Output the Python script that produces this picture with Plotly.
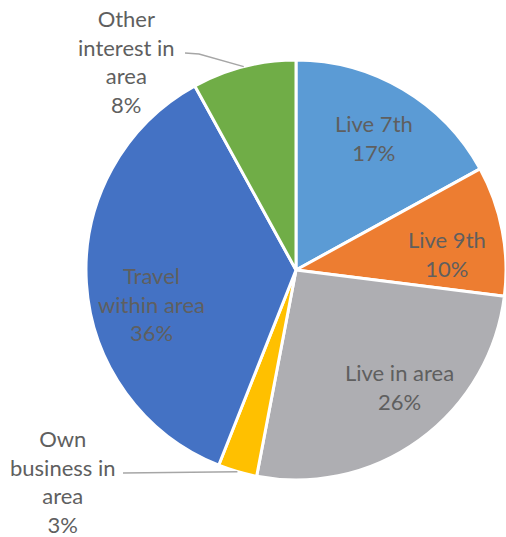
import math
import plotly.graph_objects as go

labels = ["Live 7th", "Live 9th", "Live in area", "Own business in area", "Travel within area", "Other interest in area"]
display = ["Live 7th", "Live 9th", "Live in area", "Own<br>business in<br>area", "Travel<br>within area", "Other<br>interest in<br>area"]
values = [17, 10, 26, 3, 36, 8]
colors = ["#5B9BD5", "#ED7D31", "#AEAEB2", "#FFC000", "#4472C4", "#70AD47"]
outside = [False, False, False, True, False, True]

W, H = 506, 537
CX, CY, R = 296, 270, 210
TXT = "#5F5F5F"
FONT = "Lato"

fig = go.Figure(go.Pie(
    labels=labels, values=values, sort=False, direction="clockwise", rotation=0,
    marker=dict(colors=colors, line=dict(color="white", width=3)),
    textinfo="none", hoverinfo="label+percent", showlegend=False,
    domain=dict(x=[(CX - R) / W, min(1, (CX + R) / W)], y=[(H - CY - R) / H, (H - CY + R) / H]),
))

def to_paper(px, py):
    return px / W, 1 - py / H

# small pixel nudges for inside labels (layout only)
inside_nudge = {0: (0, 0), 1: (0, 13), 2: (13, -7), 4: (8, 24)}

# outside label placement (text centre, leader start, optional elbow) in figure px
outside_layout = {
    3: dict(center=(63, 481), path=[(123, 473)]),
    5: dict(center=(126, 62), path=[(185, 53), (199, 54)]),
}

total = sum(values)
cum = 0
annotations = []
shapes = []
for i, v in enumerate(values):
    mid = (cum + v / 2) / total * 2 * math.pi
    cum += v
    pct = f"{round(v / total * 100)}%"
    text = f"{display[i]}<br>{pct}"
    if not outside[i]:
        rr = 0.73 * R
        dx, dy = inside_nudge[i]
        px = CX + rr * math.sin(mid) + dx
        py = CY - rr * math.cos(mid) + dy
        x, y = to_paper(px, py)
    else:
        tipx = CX + R * math.sin(mid)
        tipy = CY - R * math.cos(mid)
        lay = outside_layout[i]
        pts = lay["path"] + [(tipx, tipy)]
        pp = [to_paper(a, b) for a, b in pts]
        path = "M " + " L ".join(f"{a:.5f},{b:.5f}" for a, b in pp)
        shapes.append(dict(type="path", xref="paper", yref="paper", path=path,
                           line=dict(color="#A6A6A6", width=1.5)))
        x, y = to_paper(*lay["center"])
    annotations.append(dict(x=x, y=y, xref="paper", yref="paper", xanchor="center", yanchor="middle",
                            text=text, showarrow=False, borderpad=0,
                            font=dict(family=FONT, size=22, color=TXT)))

fig.update_layout(width=W, height=H, margin=dict(l=0, r=0, t=0, b=0),
                  paper_bgcolor="white", plot_bgcolor="white",
                  annotations=annotations, shapes=shapes)
fig.write_html("out.html", config={"displayModeBar": False},
               post_script="document.body.style.margin='0';")
